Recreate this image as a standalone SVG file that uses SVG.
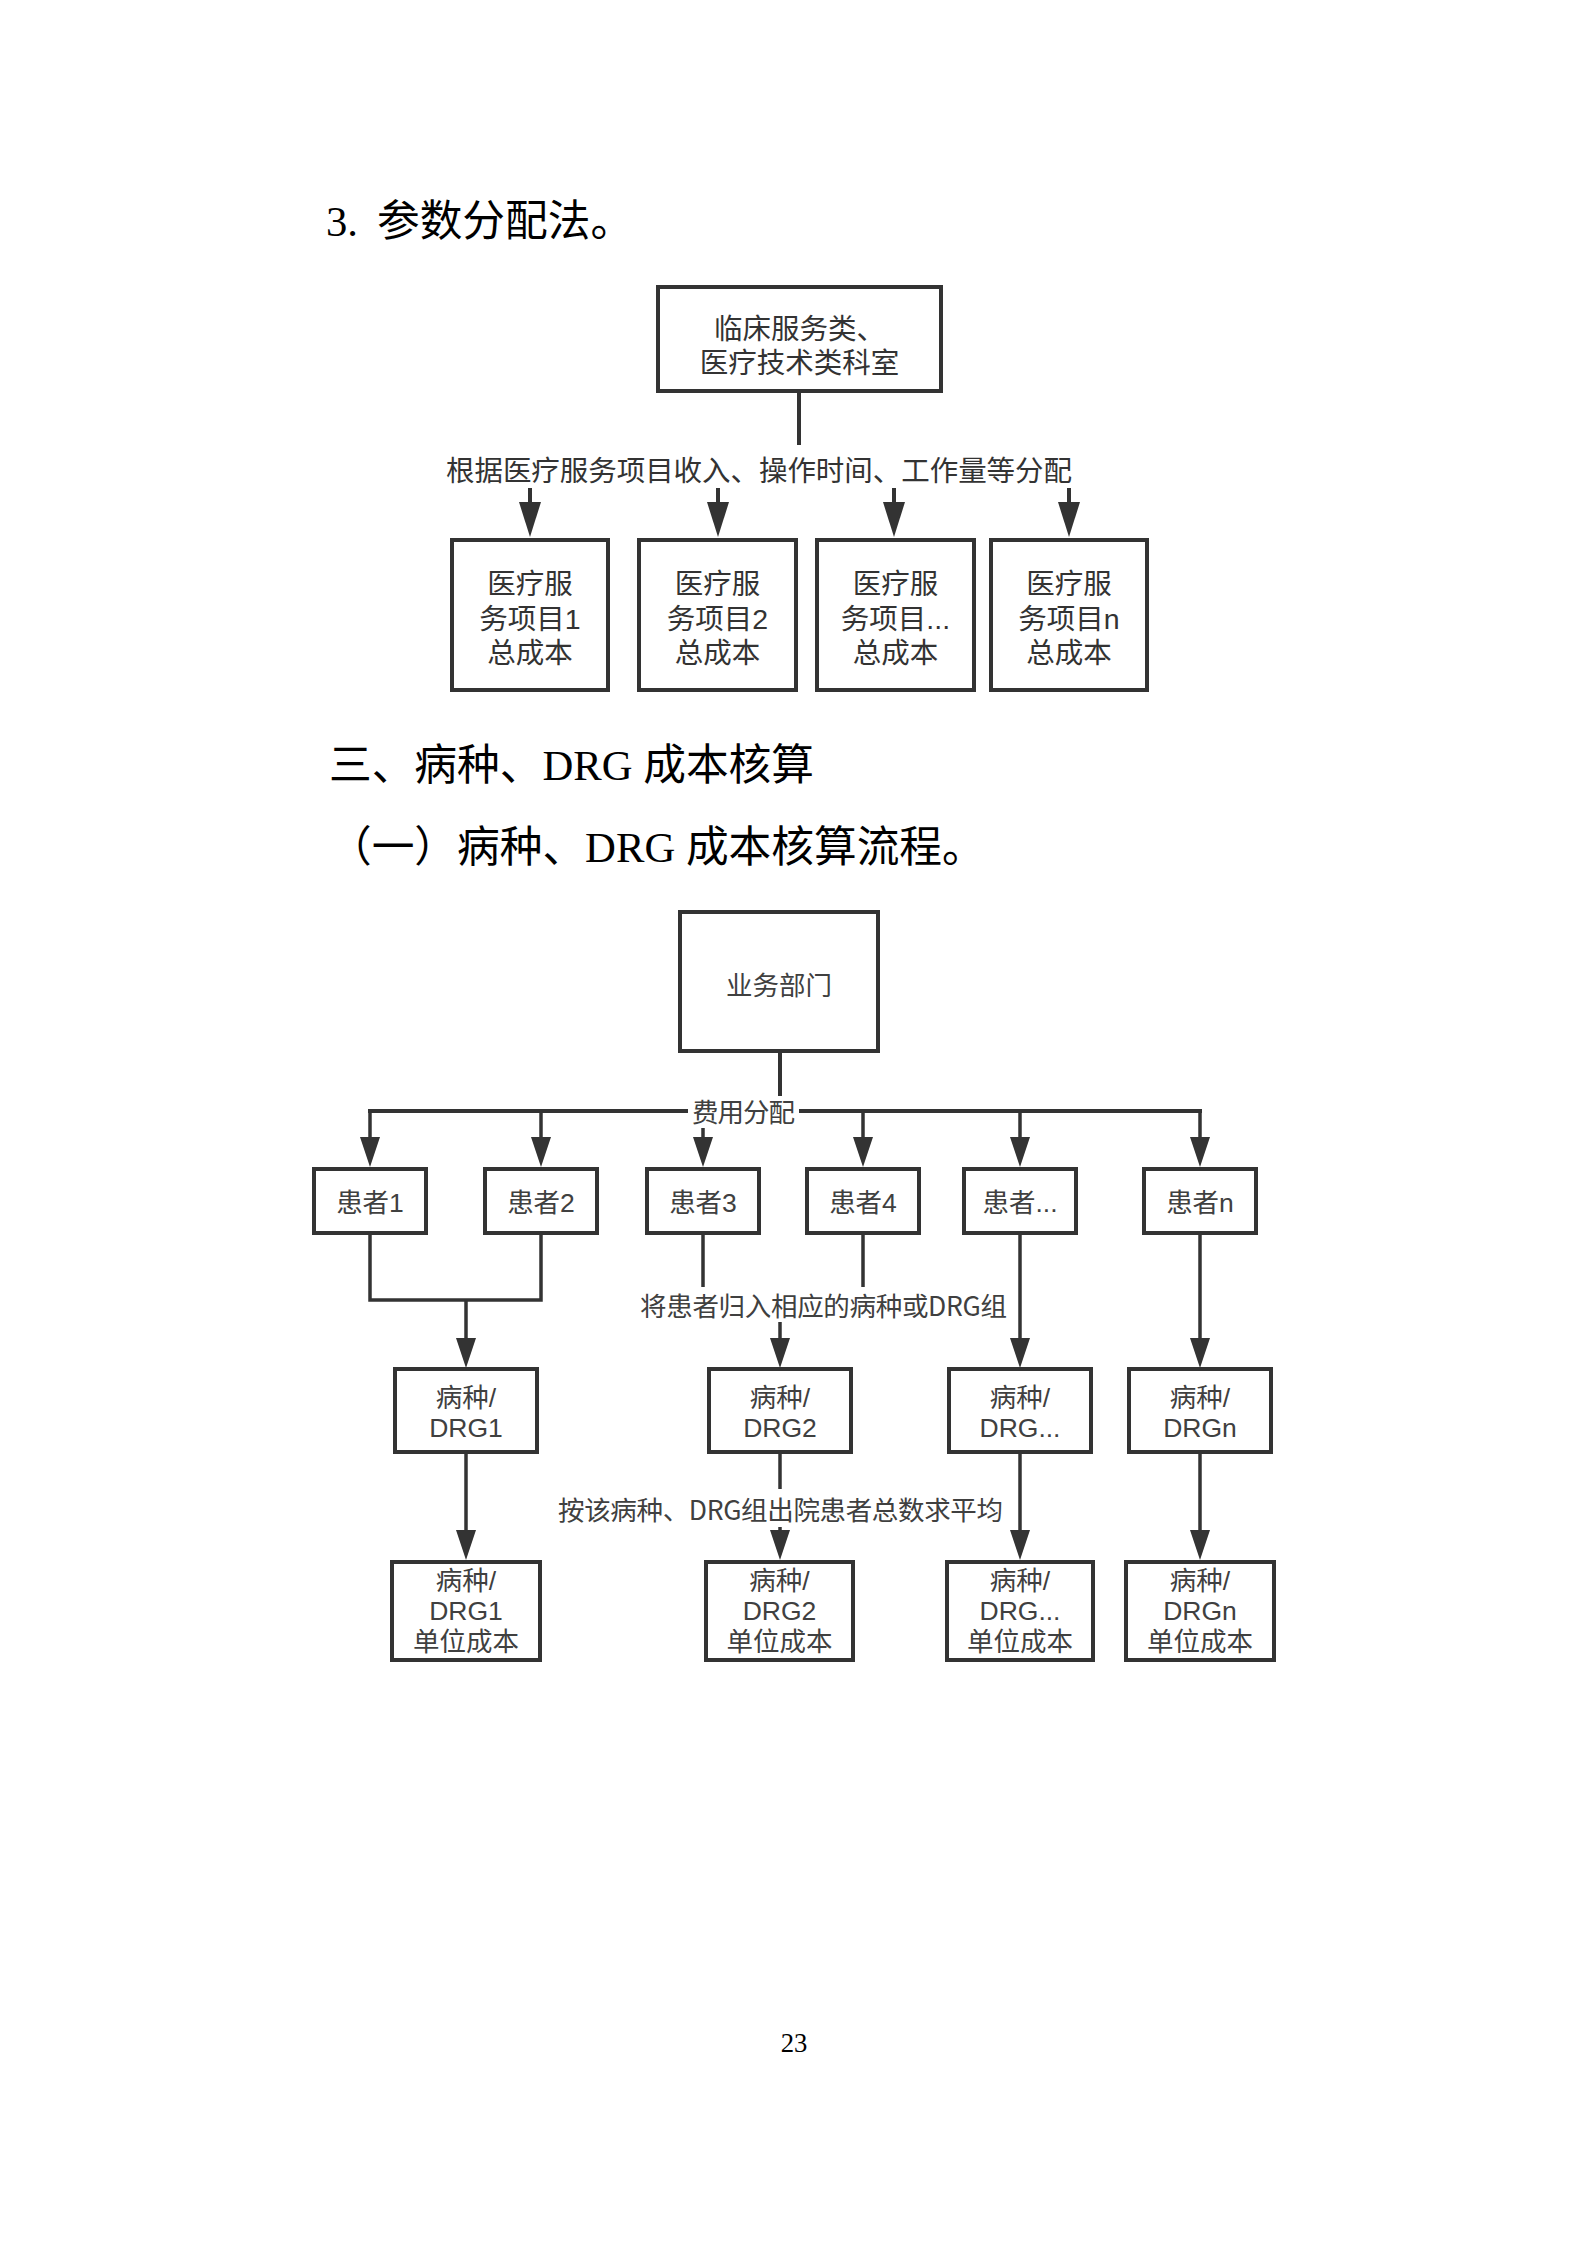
<svg xmlns="http://www.w3.org/2000/svg" width="1587" height="2245" viewBox="0 0 1587 2245">
<style>
.bg{fill:#ffffff}
.head{font-family:"Liberation Serif","Noto Sans CJK SC",serif;font-size:42.7px;fill:#000}
.box{fill:#ffffff;stroke:#333333;stroke-width:4}
.t1{font-family:"Liberation Sans","Noto Sans CJK SC",sans-serif;font-size:28.5px;fill:#333333;text-anchor:middle}
.t2{font-family:"Liberation Sans","Noto Sans CJK SC",sans-serif;font-size:26.5px;fill:#404040;text-anchor:middle}
.lab1{font-family:"Noto Sans CJK SC","Noto Sans",sans-serif;font-size:28.5px;fill:#333333}
.lab2{font-family:"Noto Sans CJK SC","Noto Sans",sans-serif;font-size:26.5px;fill:#404040}
.ln{fill:none;stroke:#333333;stroke-width:4}
.ln2{fill:none;stroke:#333333;stroke-width:3.5}
.a1{marker-end:url(#arrA)}
.a2{marker-end:url(#arrB)}
.pg{font-family:"Liberation Serif",serif;font-size:26.7px;fill:#000;text-anchor:middle}
</style>
<defs>
<marker id="arrA" markerUnits="userSpaceOnUse" markerWidth="35" markerHeight="22" viewBox="0 0 35 22" refX="0" refY="11" orient="auto"><path d="M0,0 L35,11 L0,22 z" fill="#333333"/></marker>
<marker id="arrB" markerUnits="userSpaceOnUse" markerWidth="30" markerHeight="20" viewBox="0 0 30 20" refX="0" refY="10" orient="auto"><path d="M0,0 L30,10 L0,20 z" fill="#333333"/></marker>
</defs>
<rect class="bg" x="0" y="0" width="1587" height="2245"/>

<g id="headings">
<text class="head" y="236"><tspan x="326">3.</tspan><tspan x="377">参数分配法。</tspan></text>
<text class="head" x="329" y="780">三、病种、DRG 成本核算</text>
<text class="head" x="329" y="862">（一）病种、DRG 成本核算流程。</text>
</g>

<!-- Diagram 1 -->
<g id="d1-connectors">
<path class="ln" d="M799,393 V445"/>
<path class="ln a1" d="M530,488 V502"/>
<path class="ln a1" d="M718,488 V502"/>
<path class="ln a1" d="M894,488 V502"/>
<path class="ln a1" d="M1069,488 V502"/>
<text class="lab1" x="446" y="480.5" textLength="626">根据医疗服务项目收入、操作时间、工作量等分配</text>
</g>
<g id="d1-top">
<rect class="box" x="658" y="287" width="283" height="104"/>
<text class="t1"><tspan x="799.5" y="338.5">临床服务类、</tspan><tspan x="799.5" y="372.5">医疗技术类科室</tspan></text>
</g>
<g id="d1-item1">
<rect class="box" x="452" y="540" width="156" height="150"/>
<text class="t1"><tspan x="530" y="593.5">医疗服</tspan><tspan x="530" y="628.5">务项目1</tspan><tspan x="530" y="662.5">总成本</tspan></text>
</g>
<g id="d1-item2">
<rect class="box" x="639" y="540" width="157" height="150"/>
<text class="t1"><tspan x="717.5" y="593.5">医疗服</tspan><tspan x="717.5" y="628.5">务项目2</tspan><tspan x="717.5" y="662.5">总成本</tspan></text>
</g>
<g id="d1-item3">
<rect class="box" x="817" y="540" width="157" height="150"/>
<text class="t1"><tspan x="895.5" y="593.5">医疗服</tspan><tspan x="895.5" y="628.5">务项目...</tspan><tspan x="895.5" y="662.5">总成本</tspan></text>
</g>
<g id="d1-itemn">
<rect class="box" x="991" y="540" width="156" height="150"/>
<text class="t1"><tspan x="1069" y="593.5">医疗服</tspan><tspan x="1069" y="628.5">务项目n</tspan><tspan x="1069" y="662.5">总成本</tspan></text>
</g>

<!-- Diagram 2 -->
<g id="d2-connectors">
<path class="ln" d="M780,1052 V1111"/>
<path class="ln" style="stroke-linecap:square" d="M370,1111 H1200"/>
<path class="ln2 a2" d="M370,1111 V1137"/>
<path class="ln2 a2" d="M541,1111 V1137"/>
<path class="ln2 a2" d="M703,1111 V1137"/>
<path class="ln2 a2" d="M863,1111 V1137"/>
<path class="ln2 a2" d="M1020,1111 V1137"/>
<path class="ln2 a2" d="M1200,1111 V1137"/>
<path class="ln2" d="M370,1235 V1300 H541 V1235"/>
<path class="ln2 a2" d="M466,1300 V1338"/>
<path class="ln2" d="M703,1235 V1300 H863 V1235"/>
<path class="ln2 a2" d="M780,1300 V1338"/>
<path class="ln2 a2" d="M1020,1235 V1338"/>
<path class="ln2 a2" d="M1200,1235 V1338"/>
<path class="ln2 a2" d="M466,1454 V1530"/>
<path class="ln2 a2" d="M780,1454 V1530"/>
<path class="ln2 a2" d="M1020,1454 V1530"/>
<path class="ln2 a2" d="M1200,1454 V1530"/>
<rect class="bg" x="688" y="1096" width="111" height="32"/>
<text class="lab2" x="692" y="1121.5" textLength="103">费用分配</text>
<rect class="bg" x="636" y="1287" width="376" height="35"/>
<text class="lab2" x="640" y="1315.5" textLength="367">将患者归入相应的病种或DRG组</text>
<rect class="bg" x="553" y="1489" width="456" height="38"/>
<text class="lab2" x="558" y="1519.5" textLength="445">按该病种、DRG组出院患者总数求平均</text>
</g>
<g id="d2-dept">
<rect class="box" x="680" y="912" width="198" height="139"/>
<text class="t2" x="779" y="994.5">业务部门</text>
</g>
<g id="d2-p1"><rect class="box" x="314" y="1169" width="112" height="64"/><text class="t2" x="370" y="1211.5">患者1</text></g>
<g id="d2-p2"><rect class="box" x="485" y="1169" width="112" height="64"/><text class="t2" x="541" y="1211.5">患者2</text></g>
<g id="d2-p3"><rect class="box" x="647" y="1169" width="112" height="64"/><text class="t2" x="703" y="1211.5">患者3</text></g>
<g id="d2-p4"><rect class="box" x="807" y="1169" width="112" height="64"/><text class="t2" x="863" y="1211.5">患者4</text></g>
<g id="d2-p5"><rect class="box" x="964" y="1169" width="112" height="64"/><text class="t2" x="1020" y="1211.5">患者...</text></g>
<g id="d2-pn"><rect class="box" x="1144" y="1169" width="112" height="64"/><text class="t2" x="1200" y="1211.5">患者n</text></g>
<g id="d2-g1"><rect class="box" x="395" y="1369" width="142" height="83"/><text class="t2"><tspan x="466" y="1406.5">病种/</tspan><tspan x="466" y="1436.5">DRG1</tspan></text></g>
<g id="d2-g2"><rect class="box" x="709" y="1369" width="142" height="83"/><text class="t2"><tspan x="780" y="1406.5">病种/</tspan><tspan x="780" y="1436.5">DRG2</tspan></text></g>
<g id="d2-g3"><rect class="box" x="949" y="1369" width="142" height="83"/><text class="t2"><tspan x="1020" y="1406.5">病种/</tspan><tspan x="1020" y="1436.5">DRG...</tspan></text></g>
<g id="d2-gn"><rect class="box" x="1129" y="1369" width="142" height="83"/><text class="t2"><tspan x="1200" y="1406.5">病种/</tspan><tspan x="1200" y="1436.5">DRGn</tspan></text></g>
<g id="d2-u1"><rect class="box" x="392" y="1562" width="148" height="98"/><text class="t2"><tspan x="466" y="1589.5">病种/</tspan><tspan x="466" y="1619.5">DRG1</tspan><tspan x="466" y="1651">单位成本</tspan></text></g>
<g id="d2-u2"><rect class="box" x="706" y="1562" width="147" height="98"/><text class="t2"><tspan x="779.5" y="1589.5">病种/</tspan><tspan x="779.5" y="1619.5">DRG2</tspan><tspan x="779.5" y="1651">单位成本</tspan></text></g>
<g id="d2-u3"><rect class="box" x="947" y="1562" width="146" height="98"/><text class="t2"><tspan x="1020" y="1589.5">病种/</tspan><tspan x="1020" y="1619.5">DRG...</tspan><tspan x="1020" y="1651">单位成本</tspan></text></g>
<g id="d2-un"><rect class="box" x="1126" y="1562" width="148" height="98"/><text class="t2"><tspan x="1200" y="1589.5">病种/</tspan><tspan x="1200" y="1619.5">DRGn</tspan><tspan x="1200" y="1651">单位成本</tspan></text></g>

<text class="pg" x="794" y="2052">23</text>
</svg>
